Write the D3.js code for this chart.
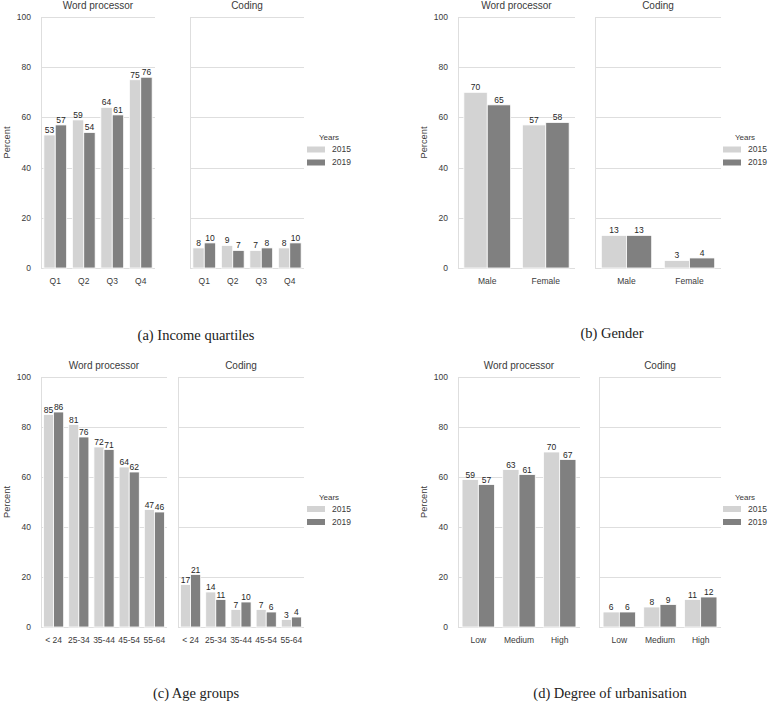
<!DOCTYPE html>
<html>
<head>
<meta charset="utf-8">
<script src="https://cdn.jsdelivr.net/npm/d3@7"></script>
<style>
    body { margin: 0; background: #fff; }
    svg { display: block; }
</style>
</head>
<body>
<svg class="d3-content" width="771" height="703"></svg>
<script>
//data
const years = ["2015", "2019"]
const yTicks = [0, 20, 40, 60, 80, 100]
const facets = ["Word processor", "Coding"]

const incomeCats = ["Q1", "Q2", "Q3", "Q4"]
const incomeWord2015 = [53, 59, 64, 75]
const incomeWord2019 = [57, 54, 61, 76]
const incomeCoding2015 = [8, 9, 7, 8]
const incomeCoding2019 = [10, 7, 8, 10]

const genderCats = ["Male", "Female"]
const genderWord2015 = [70, 57]
const genderWord2019 = [65, 58]
const genderCoding2015 = [13, 3]
const genderCoding2019 = [13, 4]

const ageCats = ["< 24", "25-34", "35-44", "45-54", "55-64"]
const ageWord2015 = [85, 81, 72, 64, 47]
const ageWord2019 = [86, 76, 71, 62, 46]
const ageCoding2015 = [17, 14, 7, 7, 3]
const ageCoding2019 = [21, 11, 10, 6, 4]

const urbanCats = ["Low", "Medium", "High"]
const urbanWord2015 = [59, 63, 70]
const urbanWord2019 = [57, 61, 67]
const urbanCoding2015 = [6, 8, 11]
const urbanCoding2019 = [6, 9, 12]

//styles
const colors = d3.scaleOrdinal().domain(years).range(["#d3d3d3", "#808080"])
const gridColor = "#dedede"
const textColor = "#3a3a3a"
const sans = "'Liberation Sans', Arial, sans-serif"
const serif = "'Liberation Serif', 'Times New Roman', serif"

const svg = d3.select('.d3-content')

function drawFigure(cfg) {
    const yScale = d3.scaleLinear()
        .domain([0, 100])
        .range([cfg.bottom, cfg.top])

    const panelData = [
        { x0: cfg.word[0], x1: cfg.word[1], v2015: cfg.word2015, v2019: cfg.word2019 },
        { x0: cfg.coding[0], x1: cfg.coding[1], v2015: cfg.coding2015, v2019: cfg.coding2019 }
    ]

    panelData.forEach((p, i) => {
        const g = svg.append('g')

        //grid
        g.selectAll('.grid')
            .data(yTicks)
            .join('line')
            .attr('x1', p.x0)
            .attr('x2', p.x1)
            .attr('y1', d => Math.round(yScale(d)) + 0.5)
            .attr('y2', d => Math.round(yScale(d)) + 0.5)
            .attr('stroke', gridColor)
            .attr('stroke-width', 1)

        //left spine
        g.append('line')
            .attr('x1', p.x0 + 0.5)
            .attr('x2', p.x0 + 0.5)
            .attr('y1', cfg.top)
            .attr('y2', cfg.bottom)
            .attr('stroke', gridColor)

        //scales
        const xScale = d3.scaleBand()
            .domain(cfg.cats)
            .range([p.x0, p.x1])
            .paddingInner(0.2)
            .paddingOuter(0.1)
        const hueScale = d3.scaleBand()
            .domain(years)
            .range([0, xScale.bandwidth()])

        const rows = []
        cfg.cats.forEach((c, j) => {
            rows.push({ cat: c, year: "2015", value: p.v2015[j] })
            rows.push({ cat: c, year: "2019", value: p.v2019[j] })
        })

        //bars
        g.selectAll('.bar')
            .data(rows)
            .join('rect')
            .attr('x', d => xScale(d.cat) + hueScale(d.year))
            .attr('y', d => yScale(d.value))
            .attr('width', hueScale.bandwidth())
            .attr('height', d => cfg.bottom - yScale(d.value))
            .attr('fill', d => colors(d.year))
            .attr('stroke', '#fff')
            .attr('stroke-width', 0.8)

        //bar labels
        g.selectAll('.lbl')
            .data(rows)
            .join('text')
            .attr('x', d => xScale(d.cat) + hueScale(d.year) + hueScale.bandwidth() / 2)
            .attr('y', d => yScale(d.value) - 2)
            .attr('text-anchor', 'middle')
            .style('font-family', sans)
            .style('font-size', '8.5px')
            .attr('fill', '#262626')
            .text(d => d.value)

        //x axis labels
        g.selectAll('.xt')
            .data(cfg.cats)
            .join('text')
            .attr('x', d => xScale(d) + xScale.bandwidth() / 2)
            .attr('y', cfg.bottom + 16)
            .attr('text-anchor', 'middle')
            .style('font-family', sans)
            .style('font-size', '8.5px')
            .attr('fill', textColor)
            .text(d => d)

        //facet title
        g.append('text')
            .attr('x', (p.x0 + p.x1) / 2)
            .attr('y', cfg.top - 8)
            .attr('text-anchor', 'middle')
            .style('font-family', sans)
            .style('font-size', '10px')
            .attr('fill', textColor)
            .text(facets[i])

        //y tick labels on the first panel only
        if (i === 0) {
            g.selectAll('.yt')
                .data(yTicks)
                .join('text')
                .attr('x', p.x0 - 10)
                .attr('y', d => yScale(d))
                .attr('dy', '0.35em')
                .attr('text-anchor', 'end')
                .style('font-family', sans)
                .style('font-size', '8.5px')
                .attr('fill', textColor)
                .text(d => d)

            g.append('text')
                .attr('transform', `translate(${p.x0 - 31}, ${(cfg.top + cfg.bottom) / 2}) rotate(-90)`)
                .attr('text-anchor', 'middle')
                .style('font-family', sans)
                .style('font-size', '9.3px')
                .attr('fill', textColor)
                .text("Percent")
        }
    })

    //legend
    const mid = (cfg.top + cfg.bottom) / 2
    const leg = svg.append('g')
        .attr('transform', `translate(${cfg.legendX}, ${mid})`)
    leg.append('text')
        .attr('x', 22)
        .attr('y', -5)
        .attr('dy', '0.35em')
        .attr('text-anchor', 'middle')
        .style('font-family', sans)
        .style('font-size', '8px')
        .attr('fill', textColor)
        .text("Years")
    leg.selectAll('.sw')
        .data(years)
        .join('rect')
        .attr('x', 0)
        .attr('y', (d, i) => 7 + i * 13 - 3)
        .attr('width', 18)
        .attr('height', 6)
        .attr('fill', d => colors(d))
    leg.selectAll('.lt')
        .data(years)
        .join('text')
        .attr('x', 25)
        .attr('y', (d, i) => 7 + i * 13)
        .attr('dy', '0.35em')
        .style('font-family', sans)
        .style('font-size', '8.5px')
        .attr('fill', textColor)
        .text(d => d)

    //caption
    svg.append('text')
        .attr('x', cfg.captionX)
        .attr('y', cfg.captionY)
        .attr('text-anchor', 'middle')
        .style('font-family', serif)
        .style('font-size', '14.5px')
        .attr('fill', '#222')
        .text(cfg.caption)
}

drawFigure({
    cats: incomeCats,
    word2015: incomeWord2015, word2019: incomeWord2019,
    coding2015: incomeCoding2015, coding2019: incomeCoding2019,
    top: 17, bottom: 268,
    word: [41, 155], coding: [190, 304],
    legendX: 307,
    caption: "(a) Income quartiles", captionX: 196, captionY: 340
})

drawFigure({
    cats: genderCats,
    word2015: genderWord2015, word2019: genderWord2019,
    coding2015: genderCoding2015, coding2019: genderCoding2019,
    top: 17, bottom: 268,
    word: [458, 575], coding: [595, 721],
    legendX: 723,
    caption: "(b) Gender", captionX: 612, captionY: 338
})

drawFigure({
    cats: ageCats,
    word2015: ageWord2015, word2019: ageWord2019,
    coding2015: ageCoding2015, coding2019: ageCoding2019,
    top: 377, bottom: 627,
    word: [41, 167], coding: [178, 304],
    legendX: 307,
    caption: "(c) Age groups", captionX: 196, captionY: 698
})

drawFigure({
    cats: urbanCats,
    word2015: urbanWord2015, word2019: urbanWord2019,
    coding2015: urbanCoding2015, coding2019: urbanCoding2019,
    top: 377, bottom: 627,
    word: [458, 580], coding: [599, 721],
    legendX: 723,
    caption: "(d) Degree of urbanisation", captionX: 610, captionY: 698
})
</script>
</body>
</html>
